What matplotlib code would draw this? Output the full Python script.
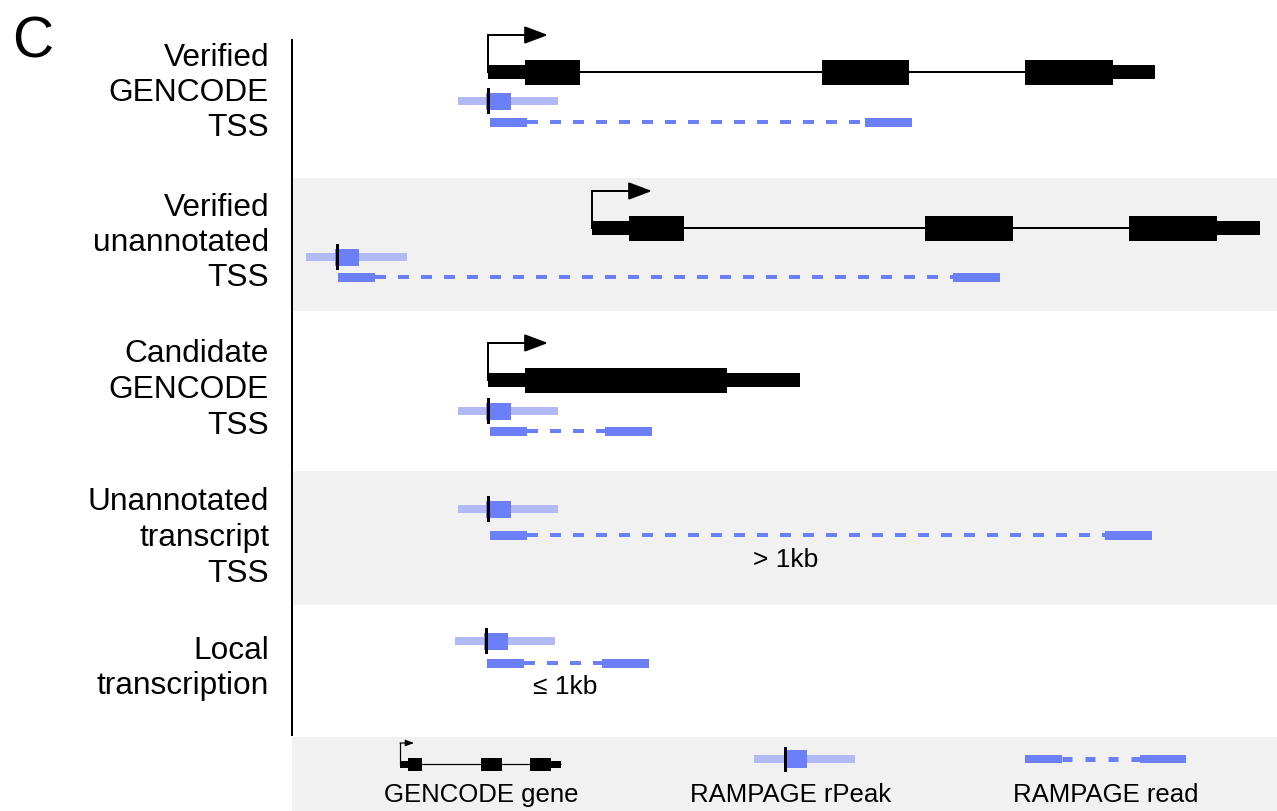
import matplotlib.pyplot as plt
from matplotlib.patches import Rectangle

plt.rcParams["font.family"] = ["Liberation Sans", "DejaVu Sans"]

# ---- data (schematic coordinates along the genome axis) ----
row_labels = [
    ["Verified", "GENCODE", "TSS"],
    ["Verified", "unannotated", "TSS"],
    ["Candidate", "GENCODE", "TSS"],
    ["Unannotated", "transcript", "TSS"],
    ["Local", "transcription"],
]

# GENCODE genes: (start, end, kind) for each exon piece
gene_rows = [0, 1, 2]
gene_exons = [
    [(488, 525, "utr"), (525, 580, "cds"), (822, 909, "cds"), (1025, 1113, "cds"), (1113, 1155, "utr")],
    [(592, 629, "utr"), (629, 684, "cds"), (925, 1013, "cds"), (1129, 1217, "cds"), (1217, 1260, "utr")],
    [(488, 525, "utr"), (525, 727, "cds"), (727, 800, "utr")],
]

# RAMPAGE rPeaks
peak_summit = [488, 337, 488, 488, 486]
peak_left = [458, 306, 458, 458, 455]
peak_right = [558, 407, 558, 558, 555]
core_left = [486, 335, 486, 486, 484]
core_right = [511, 359, 511, 511, 508]

# RAMPAGE reads: 5' end and mate end
read_start = [490, 338, 490, 490, 487]
read_mate = [865, 953, 605, 1105, 602]
read_len5 = 37
read_len3 = 47

gap_notes = {3: "> 1kb", 4: "\u2264 1kb"}

legend_labels = ["GENCODE gene", "RAMPAGE rPeak", "RAMPAGE read"]

# ---- layout ----
W, H = 1277, 811
label_mid = [101, 251, 398, 546, 676.5]
line_step = 35.5
gene_y = [72, 228, 380]
peak_y = [101, 257, 411, 509, 641]
read_y = [122, 277, 431, 535, 663]
shade_bands = [(178, 311), (471, 605)]
note_pos = {3: (786, 567), 4: (565, 694)}

BLUE = "#6b7ff9"
LIGHT = "#b1b9f6"
GRAY = "#f1f1f1"
PX = 0.72  # points per pixel at dpi 100


def box(ax, x0, x1, yc, h, color, z=3):
    ax.add_patch(Rectangle((x0, yc - h / 2), x1 - x0, h, color=color, lw=0, zorder=z))


def draw_gene(ax, exons, yc, thick=25, thin=14, rise=37, arm=60, lw=2.0, head=1.0, ms=12):
    x0, x1 = exons[0][0], exons[-1][1]
    ax.plot([x0, x1], [yc, yc], color="black", lw=lw * PX, zorder=2, solid_capstyle="butt")
    for s, e, kind in exons:
        box(ax, s, e, yc, thick if kind == "cds" else thin, "black")
    top = yc - rise
    ax.plot([x0, x0], [yc, top], color="black", lw=lw * PX, zorder=2, solid_capstyle="projecting")
    ax.annotate("", xy=(x0 + arm, top), xytext=(x0, top),
                arrowprops=dict(arrowstyle=f"-|>,head_length={1.2 * head},head_width={0.45 * head}",
                                color="black", lw=lw * PX, shrinkA=0, shrinkB=0,
                                mutation_scale=ms))


def draw_peak(ax, left, right, cl, cr, summit, yc, h_light=8, h_core=17, h_tick=26):
    box(ax, left, right, yc, h_light, LIGHT)
    box(ax, cl, cr, yc, h_core, BLUE, z=4)
    box(ax, summit - 1.5, summit + 1.5, yc, h_tick, "black", z=5)


def draw_read(ax, start, mate, yc, l5, l3, h=9, lw=4, dash=(11, 12)):
    ax.plot([start + l5, mate], [yc, yc], color=BLUE, lw=lw * PX,
            dashes=(dash[0] / lw, dash[1] / lw), dash_capstyle="butt", zorder=2)
    box(ax, start, start + l5, yc, h, BLUE)
    box(ax, mate, mate + l3, yc, h, BLUE)


fig = plt.figure(figsize=(W / 100, H / 100), dpi=100)
ax = fig.add_axes([0, 0, 1, 1])
ax.set_xlim(0, W)
ax.set_ylim(H, 0)
ax.axis("off")

for y0, y1 in shade_bands:
    ax.add_patch(Rectangle((292, y0), W - 292, y1 - y0, color=GRAY, lw=0, zorder=0))
ax.add_patch(Rectangle((292, 737), W - 292, H - 737, color=GRAY, lw=0, zorder=0))
ax.plot([292, 292], [40, 735], color="black", lw=2 * PX, zorder=1)

ax.text(12, 58, "C", fontsize=41, ha="left", va="baseline")

for i, lines in enumerate(row_labels):
    n = len(lines)
    for j, line in enumerate(lines):
        y = label_mid[i] + (j - (n - 1) / 2) * line_step
        ax.text(269, y, line, fontsize=22.8, ha="right", va="baseline")

for k, r in enumerate(gene_rows):
    draw_gene(ax, gene_exons[k], gene_y[k])

for i in range(len(row_labels)):
    draw_peak(ax, peak_left[i], peak_right[i], core_left[i], core_right[i], peak_summit[i], peak_y[i])
    draw_read(ax, read_start[i], read_mate[i], read_y[i], read_len5, read_len3)

for i, note in gap_notes.items():
    x, y = note_pos[i]
    ax.text(x, y, note, fontsize=19, ha="center", va="baseline")

# ---- legend band ----
legend_gene = [(400, 408, "utr"), (408, 422, "cds"), (481, 502, "cds"), (530, 551, "cds"), (551, 561, "utr")]
draw_gene(ax, legend_gene, 764, thick=13, thin=7, rise=21, arm=14, lw=1.2, head=0.6, ms=7)
draw_peak(ax, 754, 855, 784, 807, 785, 759, h_light=8, h_core=18, h_tick=25)
draw_read(ax, 1025, 1140, 759, 37, 46, h=8, lw=5, dash=(10, 13))

for x, lab in zip([481, 791, 1106], legend_labels):
    ax.text(x, 802, lab, fontsize=18.5, ha="center", va="baseline")

fig.savefig("out.png", dpi=100)
